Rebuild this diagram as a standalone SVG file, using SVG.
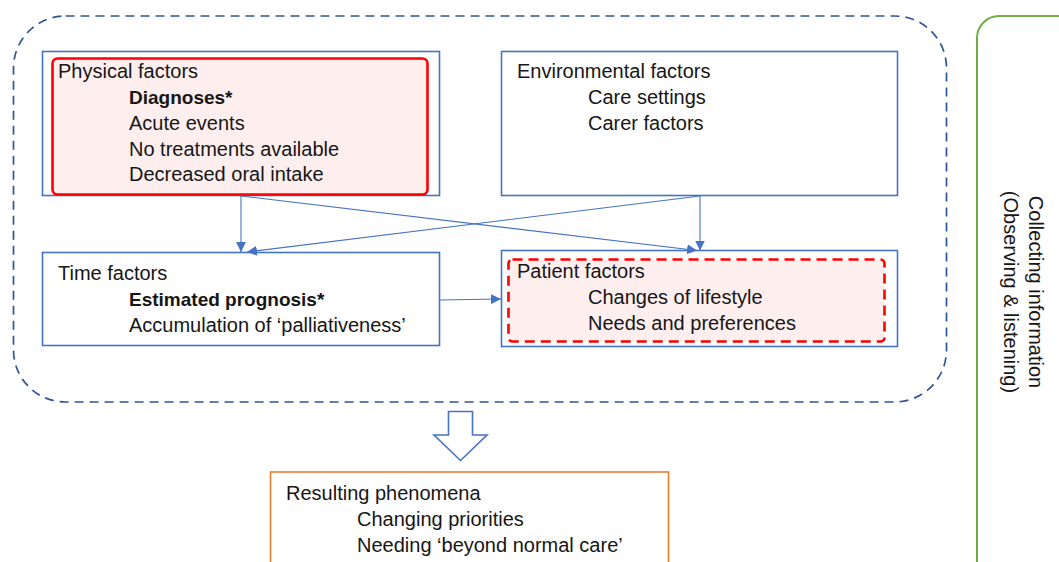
<svg xmlns="http://www.w3.org/2000/svg" width="1059" height="562" viewBox="0 0 1059 562">
<defs>
<style>
text{font-family:"Liberation Sans",Arial,sans-serif;font-size:20px;fill:#161616}
.b{font-weight:bold;font-size:19px}
.box{fill:#fff;stroke:#4472c4;stroke-width:1.6}
.conn{stroke:#4472c4;stroke-width:1.1;fill:none}
</style>
<marker id="ah" viewBox="0 0 10 10" refX="10" refY="5" markerWidth="10" markerHeight="10" markerUnits="userSpaceOnUse" orient="auto">
<path d="M0,0 L10,5 L0,10 z" fill="#4472c4"/>
</marker>
</defs>
<rect x="0" y="0" width="1059" height="562" fill="#fff"/>

<g id="boundary">
<rect x="13.5" y="16" width="933" height="386" rx="52" ry="52" fill="none" stroke="#2f5597" stroke-width="1.7" stroke-dasharray="9 6"/>
</g>

<g id="collecting">
<rect x="977" y="16" width="140" height="600" rx="22" ry="22" fill="none" stroke="#70ad47" stroke-width="2"/>
<text transform="translate(1029,292) rotate(90)" text-anchor="middle">Collecting information</text>
<text transform="translate(1004,292) rotate(90)" text-anchor="middle">(Observing &amp; listening)</text>
</g>

<g id="physical">
<rect class="box" x="42.5" y="51.5" width="397" height="144"/>
<rect x="52.5" y="58.5" width="375" height="136" rx="5" ry="5" fill="#feeeee" stroke="#ff0000" stroke-width="2.6"/>
<text x="58" y="77.5">Physical factors</text>
<text class="b" x="129" y="103.5">Diagnoses*</text>
<text x="129" y="129.5">Acute events</text>
<text x="129" y="155.5">No treatments available</text>
<text x="129" y="181">Decreased oral intake</text>
</g>

<g id="environmental">
<rect class="box" x="501.5" y="51.5" width="396" height="144"/>
<text x="517" y="77.5">Environmental factors</text>
<text x="588" y="103.5">Care settings</text>
<text x="588" y="129.5">Carer factors</text>
</g>

<g id="time">
<rect class="box" x="42.5" y="252.5" width="397" height="93"/>
<text x="58" y="279.5">Time factors</text>
<text class="b" x="129" y="305.5">Estimated prognosis*</text>
<text x="129" y="331.5">Accumulation of ‘palliativeness’</text>
</g>

<g id="patient">
<rect class="box" x="501.5" y="250.5" width="396" height="96"/>
<rect x="508.5" y="259.5" width="376" height="82" rx="4" ry="4" fill="#feeeee" stroke="#ff0000" stroke-width="2.6" stroke-dasharray="10 6"/>
<text x="517" y="277.5">Patient factors</text>
<text x="588" y="303.5">Changes of lifestyle</text>
<text x="588" y="329.5">Needs and preferences</text>
</g>

<g id="result">
<rect x="270.5" y="472" width="398" height="120" fill="#fff" stroke="#ed7d31" stroke-width="1.6"/>
<text x="286" y="499.5">Resulting phenomena</text>
<text x="357" y="526">Changing priorities</text>
<text x="357" y="552">Needing ‘beyond normal care’</text>
</g>

<g id="connectors">
<line class="conn" x1="241" y1="196" x2="241" y2="252" marker-end="url(#ah)"/>
<line class="conn" x1="241" y1="196" x2="697" y2="250.5" marker-end="url(#ah)"/>
<line class="conn" x1="700" y1="196" x2="700" y2="250.5" marker-end="url(#ah)"/>
<line class="conn" x1="700" y1="196" x2="247" y2="252" marker-end="url(#ah)"/>
<line class="conn" x1="440" y1="300" x2="501" y2="299" marker-end="url(#ah)"/>
<path d="M448.5,411.5 H472.5 V435 H487 L460.5,460.5 L434,435 H448.5 Z" fill="#fff" stroke="#4472c4" stroke-width="1.6" stroke-linejoin="miter"/>
</g>
</svg>
